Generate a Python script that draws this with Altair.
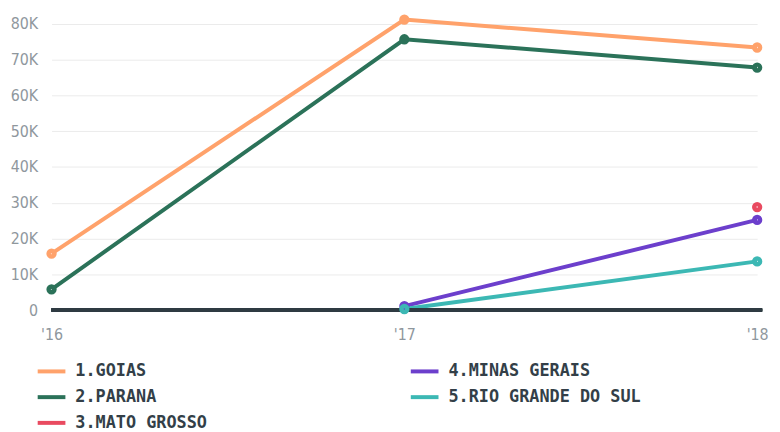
import altair as alt
import pandas as pd

years = ["'16", "'17", "'18"]
series = ["1.GOIAS", "2.PARANA", "3.MATO GROSSO", "4.MINAS GERAIS", "5.RIO GRANDE DO SUL"]
colors = ["#ffa26b", "#2b7259", "#e94a60", "#6c3fcc", "#3cb8b4"]
goias = [15800, 81200, 73400]
parana = [5800, 75700, 67800]
mato_grosso = [None, None, 28800]
minas_gerais = [None, 1100, 25200]
rio_grande = [None, 300, 13600]
y_ticks = [0, 10000, 20000, 30000, 40000, 50000, 60000, 70000, 80000]

values = {
    "1.GOIAS": goias,
    "2.PARANA": parana,
    "3.MATO GROSSO": mato_grosso,
    "4.MINAS GERAIS": minas_gerais,
    "5.RIO GRANDE DO SUL": rio_grande,
}
rows = []
for name, vals in values.items():
    for yr, v in zip(years, vals):
        if v is not None:
            rows.append({"year": yr, "state": name, "value": v})
df = pd.DataFrame(rows)

label_font = "DejaVu Sans Condensed, Liberation Sans Narrow, sans-serif"

y_axis = alt.Axis(title=None, values=y_ticks, domain=False, ticks=False,
                  labelOverlap=False,
                  labelExpr="datum.value == 0 ? '0' : (datum.value/1000) + 'K'",
                  labelFont=label_font, labelFontSize=16, labelColor="#8f979d",
                  labelPadding=14, gridColor="#ebebeb", gridWidth=1)
y_scale = alt.Scale(domain=[0, 83000], nice=False)

x = alt.X("year:O", scale=alt.Scale(type="point", domain=years, padding=0),
          axis=alt.Axis(title=None, labelAngle=0, domain=False, ticks=False, grid=False,
                        labelFont=label_font, labelFontSize=16, labelColor="#8f979d",
                        labelPadding=17))
y = alt.Y("value:Q", scale=y_scale, axis=y_axis)
color = alt.Color("state:N", scale=alt.Scale(domain=series, range=colors),
                  legend=alt.Legend(title=None, orient="none", legendX=-16, legendY=346,
                                    columns=2, gridAlign="all", columnPadding=136,
                                    symbolType="stroke", symbolStrokeWidth=4, symbolSize=784,
                                    labelFont="DejaVu Sans Mono", labelFontSize=17,
                                    labelFontWeight="bold", labelColor="#333f48",
                                    labelOffset=8, rowPadding=2, labelLimit=400))

base = alt.Chart(df).encode(x=x, y=y, color=color)
lines = base.mark_line(strokeWidth=4)
points = base.mark_point(filled=False, strokeWidth=4.5, size=35, opacity=1)

zero = alt.Chart(df).transform_calculate(value="0").mark_rule(
    color="#2f3b42", strokeWidth=3).encode(
    y=alt.Y("value:Q", scale=y_scale, axis=y_axis), x=alt.value(0), x2=alt.value(718))

chart = alt.layer(lines, zero, points).properties(
    width=713, height=300,
    autosize=alt.AutoSizeParams(type="none"),
    padding={"left": 44, "top": 3, "right": 15, "bottom": 121},
).configure_view(stroke=None)

chart.save("out.html", embed_options={"renderer": "svg", "actions": False})
